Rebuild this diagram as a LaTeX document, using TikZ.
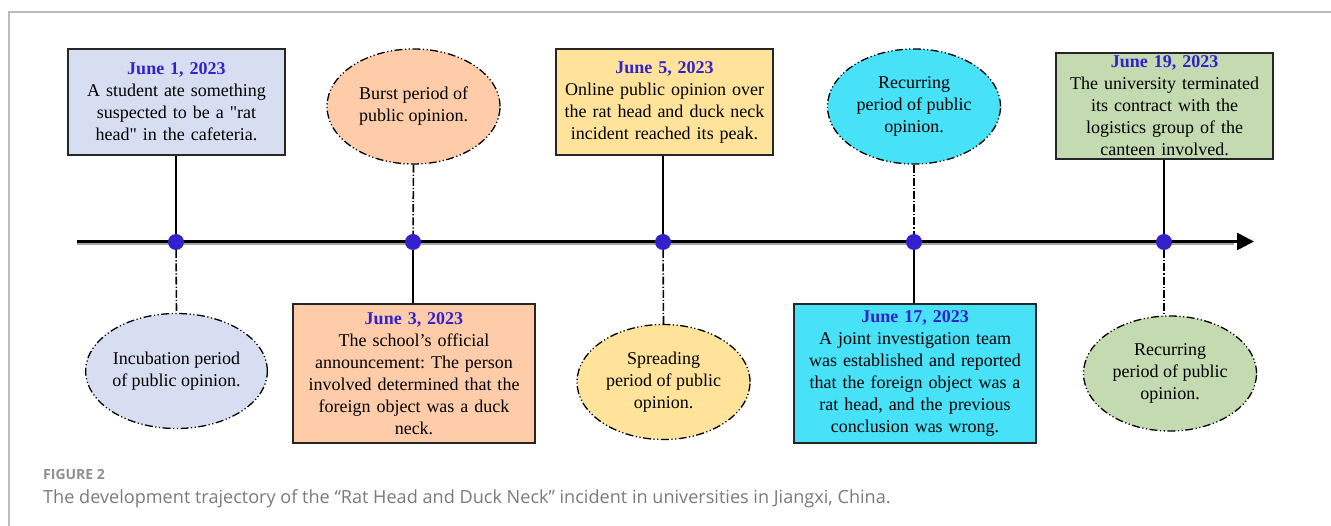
\documentclass[tikz,border=0pt]{standalone}
\usepackage{fontspec}
\setmainfont{Liberation Serif}[Ligatures=TeXOff]
\newfontfamily\capfont{Open Sans}
\usetikzlibrary{shapes.geometric,arrows.meta,backgrounds}
\definecolor{cLav}{HTML}{D8DEF2}
\definecolor{cPeach}{HTML}{FFCCAA}
\definecolor{cYel}{HTML}{FFE39A}
\definecolor{cCyan}{HTML}{48E2F8}
\definecolor{cGreen}{HTML}{C4DAB1}
\definecolor{cDate}{HTML}{3322CC}
\definecolor{cFrame}{HTML}{BBBBBB}
\definecolor{cCap}{HTML}{7A7A7A}
\newcommand{\dt}[1]{{\color{cDate}\bfseries #1}}
\frenchspacing
\tikzset{
  evbox/.style={draw=black!85, line width=1.2pt, align=center, inner sep=0pt,
    font=\fontsize{18}{22}\selectfont},
  smallbox/.style={evbox, minimum width=217pt, minimum height=106pt, text width=214pt},
  bigbox/.style={evbox, minimum width=242pt, minimum height=139pt, text width=240pt},
  period/.style={ellipse, draw=black, line width=1.3pt, align=center, inner sep=0pt,
    minimum width=173pt, minimum height=115pt,
    dash pattern=on 8pt off 2.5pt on 1.2pt off 2.5pt on 1.2pt off 2.5pt,
    font=\fontsize{18}{22}\selectfont},
  dotnode/.style={circle, fill=cDate, minimum size=16pt, inner sep=0pt},
  solidconn/.style={draw=black, line width=1.8pt},
  dashconn/.style={draw=black, line width=1.6pt, dash pattern=on 8pt off 2pt on 1.2pt off 2pt},
}
\begin{document}
\begin{tikzpicture}[x=1pt,y=-1pt]
\useasboundingbox (0,0) rectangle (1331,526);
\draw[cFrame, line width=1.2pt] (9,526) -- (9,12) -- (1331,12);

% timeline
\coordinate (ts) at (77,242);
\coordinate (te) at (1254,242);
\draw[gray!70, line width=2.4pt] ([yshift=-2pt]ts) -- ([xshift=-20pt,yshift=-2pt]te);
\draw[black, line width=2.6pt, -{Triangle[length=17pt,width=17pt]}] ([yshift=0.5pt]ts) -- ([yshift=0.5pt]te);

% dots
\node[dotnode] (d1) at (176,242) {};
\node[dotnode] (d2) at (413,242) {};
\node[dotnode] (d3) at (663,242) {};
\node[dotnode] (d4) at (914,242) {};
\node[dotnode] (d5) at (1164,242) {};

% event boxes
\node[smallbox, fill=cLav] (b1) at (176.5,102) {\dt{June 1, 2023}\\A student ate something\\suspected to be a "rat\\head" in the cafeteria.};
\node[smallbox, fill=cYel] (b3) at (664.5,102) {\dt{June 5, 2023}\\Online public opinion over\\the rat head and duck neck\\incident reached its peak.};
\node[smallbox, fill=cGreen] (b5) at (1164.5,106) {\dt{June 19, 2023}\\The university terminated\\its contract with the\\logistics group of the\\canteen involved.};
\node[bigbox, fill=cPeach] (b2) at (414,373.5) {\dt{June 3, 2023}\\The school’s official\\announcement: The person\\involved determined that the\\foreign object was a duck\\neck.};
\node[bigbox, fill=cCyan] (b4) at (915,373.5) {\dt{June 17, 2023}\\A joint investigation team\\was established and reported\\that the foreign object was a\\rat head, and the previous\\conclusion was wrong.};

% period ellipses
\node[period, fill=cPeach] (e2) at (413.5,106.5) {Burst period of\\public opinion.};
\node[period, fill=cCyan] (e4) at (914,106.5) {Recurring\\period of public\\opinion.};
\node[period, fill=cLav] (e1) at (176.5,371) {Incubation period\\of public opinion.};
\node[period, fill=cYel] (e3) at (663.5,382) {Spreading\\period of public\\opinion.};
\node[period, fill=cGreen] (e5) at (1170,373.5) {Recurring\\period of public\\opinion.};

\begin{scope}[on background layer]
\draw[solidconn] (b1.south -| d1) -- (d1);
\draw[solidconn] (b3.south -| d3) -- (d3);
\draw[solidconn] (b5.south -| d5) -- (d5);
\draw[solidconn] (d2) -- (d2 |- b2.north);
\draw[solidconn] (d4) -- (d4 |- b4.north);
\draw[dashconn] (e2.south) -- (d2);
\draw[dashconn] (e4.south) -- (d4);
\draw[dashconn] (d1) -- (e1.north);
\draw[dashconn] (d3) -- (e3.north);
\draw[dashconn] (d5) -- (d5 |- e5.north);
\end{scope}

% caption
\node[anchor=base west, inner sep=0pt, text=cCap!85, font=\capfont\fontsize{14}{16}\selectfont\bfseries] (figlab) at (43,479) {FIGURE 2};
\node[anchor=base west, inner sep=0pt, text=cCap, font=\capfont\fontsize{18.1}{20}\selectfont] (figcap) at (43,503) {The development trajectory of the “Rat Head and Duck Neck” incident in universities in Jiangxi, China.};
\end{tikzpicture}
\end{document}
